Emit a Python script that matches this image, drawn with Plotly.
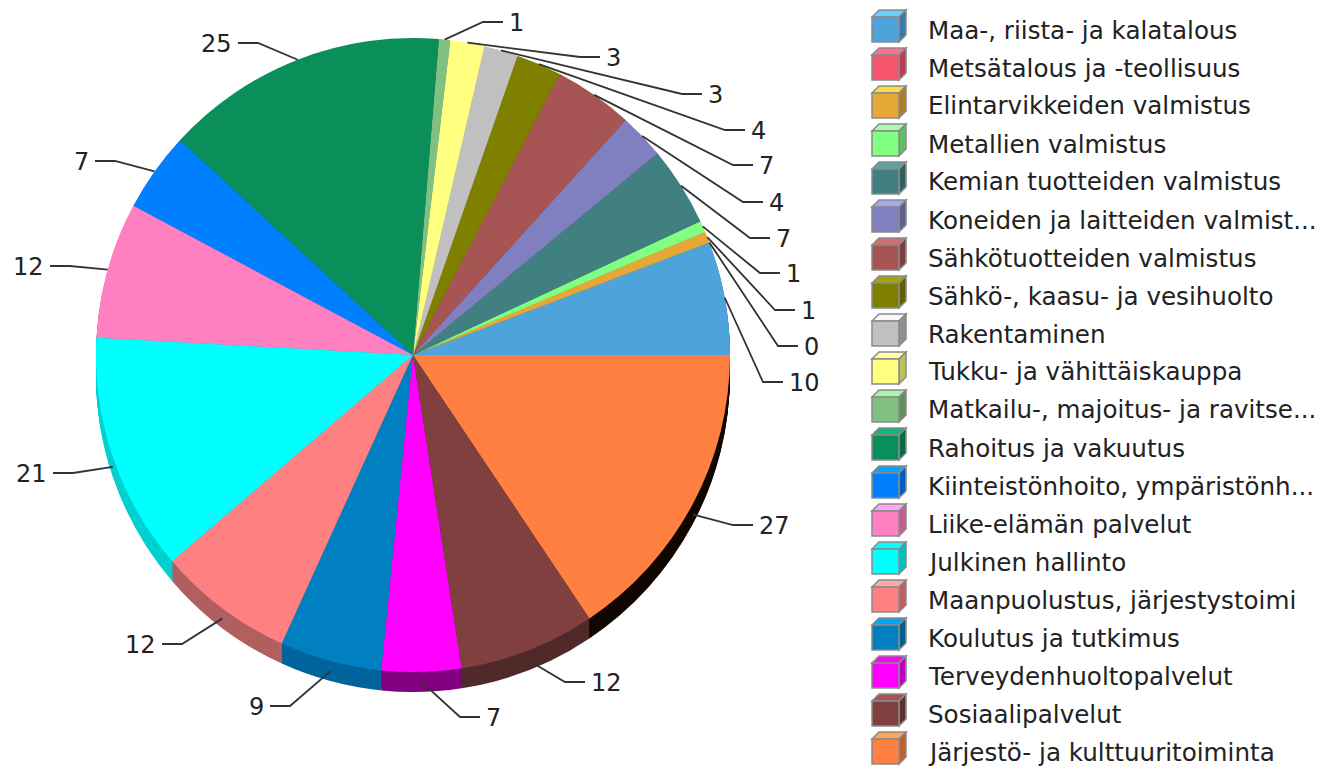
import math
import plotly.graph_objects as go

W, H = 1326, 770

categories = [
    "Maa-, riista- ja kalatalous", "Metsätalous ja -teollisuus", "Elintarvikkeiden valmistus",
    "Metallien valmistus", "Kemian tuotteiden valmistus", "Koneiden ja laitteiden valmist...",
    "Sähkötuotteiden valmistus", "Sähkö-, kaasu- ja vesihuolto", "Rakentaminen",
    "Tukku- ja vähittäiskauppa", "Matkailu-, majoitus- ja ravitse...", "Rahoitus ja vakuutus",
    "Kiinteistönhoito, ympäristönh...", "Liike-elämän palvelut", "Julkinen hallinto",
    "Maanpuolustus, järjestystoimi", "Koulutus ja tutkimus", "Terveydenhuoltopalvelut",
    "Sosiaalipalvelut", "Järjestö- ja kulttuuritoiminta",
]
values = [10, 0, 1, 1, 7, 4, 7, 4, 3, 3, 1, 25, 7, 12, 21, 12, 9, 7, 12, 27]
colors = [
    "#4fa3db", "#f5566e", "#e5a836", "#80ff80", "#408080", "#8080c0", "#a65454", "#808000",
    "#c0c0c0", "#ffff80", "#80c080", "#0a8f5a", "#0080ff", "#ff80c0", "#00ffff", "#ff8080",
    "#0080c0", "#ff00ff", "#804040", "#ff8040",
]
rim_colors = [
    "#3b7aa4", "#b84052", "#ac7e28", "#60c060", "#306060", "#606090", "#7c3f3f", "#606000",
    "#909090", "#c0c060", "#609060", "#086b44", "#0060c0", "#c06090", "#00d0d0", "#b06060",
    "#00649c", "#800080", "#512a2a", "#120800",
]

# Callout layout (pixels): elbow of each leader line, in slice order
elbow_x = [763, 778, 775, 760, 750, 743, 733, 725, 682, 580, 483, 258, 115, 70, 73, 182, 290, 460, 565, 733]
elbow_y = [382, 346, 310, 273, 238, 202, 165, 130, 94, 57, 22, 43, 161, 266, 473, 644, 706, 717, 682, 525]

cx, cy, radius, depth = 413, 355, 317, 20
stub, text_gap = 20, 4

total = sum(values)
start_rotation = 90 - 360 * values[0] / total


def px(x):
    return x / W


def py(y):
    return 1 - y / H


def pie(offset, slice_colors):
    return go.Pie(
        labels=categories, values=values, sort=False, direction="counterclockwise",
        rotation=start_rotation,
        marker=dict(colors=slice_colors, line=dict(width=0)), textinfo="none",
        hoverinfo="skip" if offset else "label+value", showlegend=False,
        domain=dict(x=[px(cx - radius), px(cx + radius)],
                    y=[py(cy + radius + offset), py(cy - radius + offset)]),
    )


traces = [pie(k, rim_colors) for k in range(depth, 0, -1)] + [pie(0, colors)]

shapes, annotations = [], []
acc = 0
for v, ex, ey in zip(values, elbow_x, elbow_y):
    a = (acc + v / 2) / total * 2 * math.pi
    acc += v
    ax = cx + radius * math.cos(a)
    ay = cy - radius * math.sin(a)
    if math.sin(a) < 0:
        ay += depth / 2
    right = ex > ax
    sx = ex + stub if right else ex - stub
    shapes.append(dict(
        type="path", xref="paper", yref="paper", layer="above",
        path=f"M {px(ax)} {py(ay)} L {px(ex)} {py(ey)} L {px(sx)} {py(ey)}",
        line=dict(color="#333333", width=1.8),
    ))
    annotations.append(dict(
        x=px(sx + (text_gap if right else -text_gap)), y=py(ey + 1), xref="paper", yref="paper",
        text=str(v), showarrow=False, xanchor="left" if right else "right", yanchor="middle",
        font=dict(family="DejaVu Sans", size=24, color="#222222"),
    ))


def shade(hex_color, f):
    rgb = [int(hex_color[i:i + 2], 16) for i in (1, 3, 5)]
    return "#" + "".join(f"{min(255, int(c * f)):02x}" for c in rgb)


leg_x, leg_y0, leg_pitch = 872, 26, 38
for i, (name, col) in enumerate(zip(categories, colors)):
    yc = leg_y0 + i * leg_pitch
    top, mid, bot = yc - 16, yc - 9, yc + 16
    x0, x1, x2 = leg_x, leg_x + 27, leg_x + 34
    outline = dict(color="#8a8a8a", width=1.5)
    shapes.append(dict(type="path", xref="paper", yref="paper", layer="above",
                       path=f"M {px(x0)} {py(mid)} L {px(x0 + 7)} {py(top)} L {px(x2)} {py(top)} L {px(x1)} {py(mid)} Z",
                       fillcolor=shade(col, 1.3), line=outline))
    shapes.append(dict(type="path", xref="paper", yref="paper", layer="above",
                       path=f"M {px(x1)} {py(mid)} L {px(x2)} {py(top)} L {px(x2)} {py(bot - 7)} L {px(x1)} {py(bot)} Z",
                       fillcolor=shade(col, 0.75), line=outline))
    shapes.append(dict(type="rect", xref="paper", yref="paper", layer="above",
                       x0=px(x0), x1=px(x1), y0=py(bot), y1=py(mid),
                       fillcolor=col, line=outline))
    annotations.append(dict(
        x=px(926), y=py(yc + 4), xref="paper", yref="paper", text=name, showarrow=False,
        xanchor="left", yanchor="middle",
        font=dict(family="DejaVu Sans", size=24.6, color="#222222"),
    ))

fig = go.Figure(traces)
fig.update_layout(
    width=W, height=H, margin=dict(l=0, r=0, t=0, b=0), showlegend=False,
    paper_bgcolor="white", shapes=shapes, annotations=annotations,
)
fig.write_html("out.html", post_script="document.body.style.margin='0';",
               config=dict(displayModeBar=False))
